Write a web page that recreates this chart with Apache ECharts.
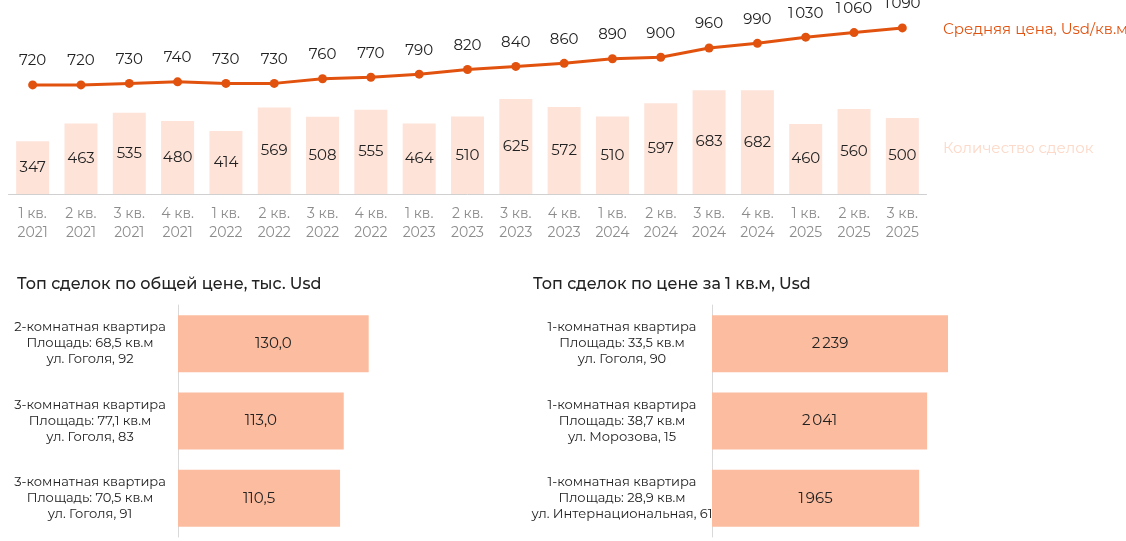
<!DOCTYPE html><html><head><meta charset="utf-8"><script src="https://cdn.jsdelivr.net/npm/echarts@6/dist/echarts.min.js"></script>
<style>html,body{margin:0;background:#fff}#c{width:1126px;height:541px}</style></head><body><div id="c"></div><script>
const quarters=['1 кв.\n2021','2 кв.\n2021','3 кв.\n2021','4 кв.\n2021','1 кв.\n2022','2 кв.\n2022','3 кв.\n2022','4 кв.\n2022','1 кв.\n2023','2 кв.\n2023','3 кв.\n2023','4 кв.\n2023','1 кв.\n2024','2 кв.\n2024','3 кв.\n2024','4 кв.\n2024','1 кв.\n2025','2 кв.\n2025','3 кв.\n2025'];
const avgPrice=[720,720,730,740,730,730,760,770,790,820,840,860,890,900,960,990,1030,1060,1090];
const deals=[347,463,535,480,414,569,508,555,464,510,625,572,510,597,683,682,460,560,500];
const topTotalCats=['2-комнатная квартира\nПлощадь: 68,5 кв.м\nул. Гоголя, 92','3-комнатная квартира\nПлощадь: 77,1 кв.м\nул. Гоголя, 83','3-комнатная квартира\nПлощадь: 70,5 кв.м\nул. Гоголя, 91'];
const topTotalVals=[130.0,113.0,110.5];
const topSqmCats=['1-комнатная квартира\nПлощадь: 33,5 кв.м\nул. Гоголя, 90','1-комнатная квартира\nПлощадь: 38,7 кв.м\nул. Морозова, 15','1-комнатная квартира\nПлощадь: 28,9 кв.м\nул. Интернациональная, 61'];
const topSqmVals=[2239,2041,1965];
const F='Montserrat, Lato, "Noto Sans", sans-serif';
const fmtSp=v=>String(v).replace(/\B(?=(\d{3})+(?!\d))/g,'\u2009');
const ch=echarts.init(document.getElementById('c'));
// quarters has 19? check counts
const n=avgPrice.length;
const cats=quarters.slice(0,n);
ch.setOption({
 animation:false,
 textStyle:{fontFamily:F},
 graphic:[
  {type:'text',left:943,top:22,style:{text:'Средняя цена, Usd/кв.м',fill:'#e2520f',font:'15px '+F}},
  {type:'text',left:943,top:141,style:{text:'Количество сделок',fill:'#fcd9c8',font:'15px '+F}},
  {type:'text',left:17,top:276,style:{text:'Топ сделок по общей цене, тыс. Usd',fill:'#222',font:'500 16px '+F}},
  {type:'text',left:533,top:276,style:{text:'Топ сделок по цене за 1 кв.м, Usd',fill:'#222',font:'500 16px '+F}}
 ],
 grid:[
  {left:8.5,width:918,top:72.4,height:121.6},
  {left:8.5,width:918,top:11,height:92.4},
  {left:178,top:305,height:232,width:220},
  {left:712,top:305,height:232,width:263.5}
 ],
 xAxis:[
  {gridIndex:0,type:'category',data:cats,axisTick:{show:false},axisLine:{lineStyle:{color:'#d0d0d0'}},axisLabel:{color:'#8c8c8c',fontSize:14,lineHeight:19,margin:10,interval:0}},
  {gridIndex:1,type:'category',data:cats,show:false},
  {gridIndex:2,type:'value',min:0,max:150,show:false},
  {gridIndex:3,type:'value',min:0,max:2500,show:false}
 ],
 yAxis:[
  {gridIndex:0,type:'value',min:0,max:800,show:false},
  {gridIndex:1,type:'value',min:600,max:1200,show:false},
  {gridIndex:2,type:'category',data:topTotalCats,inverse:true,axisTick:{show:false},axisLine:{lineStyle:{color:'#d9d9d9'}},axisLabel:{color:'#222',fontSize:13,lineHeight:16,align:'center',margin:88}},
  {gridIndex:3,type:'category',data:topSqmCats,inverse:true,axisTick:{show:false},axisLine:{lineStyle:{color:'#d9d9d9'}},axisLabel:{color:'#222',fontSize:13,lineHeight:16,align:'center',margin:90}}
 ],
 series:[
  {type:'bar',xAxisIndex:0,yAxisIndex:0,data:deals,barWidth:33,itemStyle:{color:'#fde3d8'},label:{show:true,position:'inside',color:'#222',fontSize:15}},
  {type:'line',xAxisIndex:1,yAxisIndex:1,data:avgPrice,symbol:'circle',symbolSize:9,lineStyle:{color:'#e2520f',width:3},itemStyle:{color:'#e2520f'},label:{show:true,position:'top',distance:12,color:'#222',fontSize:15,formatter:p=>fmtSp(p.value)}},
  {type:'bar',xAxisIndex:2,yAxisIndex:2,data:topTotalVals,barWidth:57,itemStyle:{color:'#fbbc9f'},label:{show:true,position:'inside',color:'#222',fontSize:15,formatter:p=>p.value.toFixed(1).replace('.',',')}},
  {type:'bar',xAxisIndex:3,yAxisIndex:3,data:topSqmVals,barWidth:57,itemStyle:{color:'#fbbc9f'},label:{show:true,position:'inside',color:'#222',fontSize:15,formatter:p=>fmtSp(p.value)}}
 ]
});
</script></body></html>
